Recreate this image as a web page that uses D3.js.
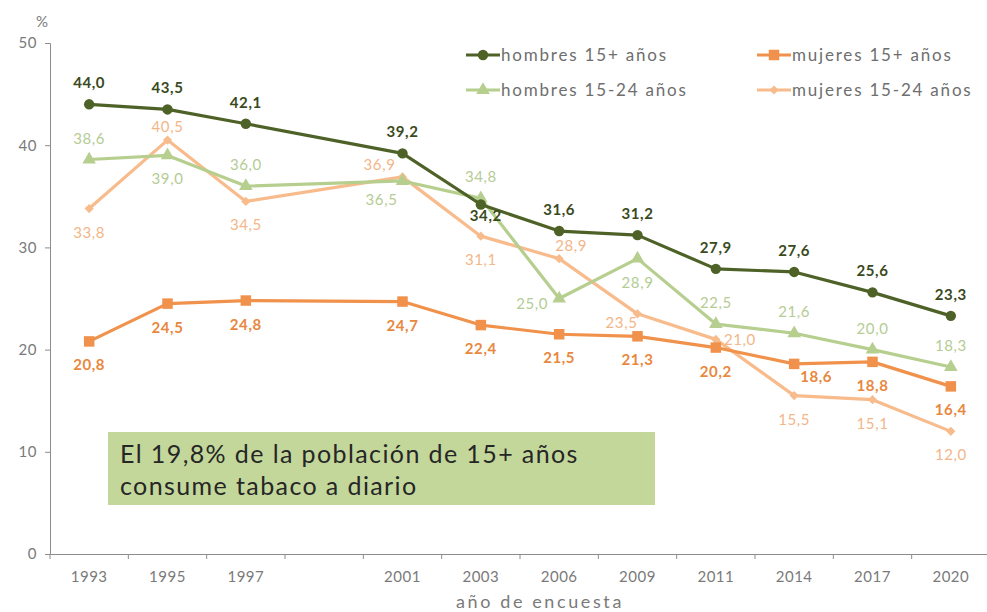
<!DOCTYPE html>
<html lang="es">
<head>
<meta charset="utf-8">
<title>Consumo diario de tabaco</title>
<script src="https://cdn.jsdelivr.net/npm/d3@7"></script>
<style>
  body { margin: 0; background: #fff; }
  text { font-family: Lato, "Open Sans", sans-serif; }
</style>
</head>
<body>
<script>
// datos (una casilla vacía entre 1997 y 2001)
var categories = ["1993", "1995", "1997", "", "2001", "2003", "2006", "2009", "2011", "2014", "2017", "2020"];
var hombres15 = [44.0, 43.5, 42.1, null, 39.2, 34.2, 31.6, 31.2, 27.9, 27.6, 25.6, 23.3];
var mujeres15 = [20.8, 24.5, 24.8, null, 24.7, 22.4, 21.5, 21.3, 20.2, 18.6, 18.8, 16.4];
var hombres1524 = [38.6, 39.0, 36.0, null, 36.5, 34.8, 25.0, 28.9, 22.5, 21.6, 20.0, 18.3];
var mujeres1524 = [33.8, 40.5, 34.5, null, 36.9, 31.1, 28.9, 23.5, 21.0, 15.5, 15.1, 12.0];
var yTicks = [0, 10, 20, 30, 40, 50];

// where each value label sits relative to its point
var placeH15 = ["t", "t", "t", null, "t", "br", "t", "t", "t", "t", "t", "t"];
var placeM15 = ["b", "b", "b", null, "b", "b", "b", "b", "b", "brr", "b", "b"];
var placeH1524 = ["t", "b", "t", null, "lb", "t", "l", "b", "t", "t", "t", "t"];
var placeM1524 = ["b", "tc", "b", null, "tl", "b", "tr", "bl", "r", "b", "b", "b"];

var offsets = {
  t: [0, -16], b: [0, 29], l: [-27, 10], r: [24, 6], tc: [0, -8],
  tr: [12, -8], tl: [-23, -7], bl: [-16, 14], lb: [-21, 24], br: [5, 17], brr: [22, 18]
};

var series = [
  {name: "mujeres 15-24 años", values: mujeres1524, place: placeM1524, color: "#f8bb8c", label: "#f3b689", weight: 400, symbol: "diamond", size: 42},
  {name: "hombres 15-24 años", values: hombres1524, place: placeH1524, color: "#b6cf8f", label: "#b5cc95", weight: 400, symbol: d3.symbolTriangle, size: 80},
  {name: "mujeres 15+ años", values: mujeres15, place: placeM15, color: "#f0914c", label: "#e8883f", weight: 700, symbol: d3.symbolSquare, size: 110},
  {name: "hombres 15+ años", values: hombres15, place: placeH15, color: "#4e6228", label: "#3a4a1c", weight: 700, symbol: d3.symbolCircle, size: 85}
];

var width = 987, height = 612;
var svg = d3.select("body").append("svg").attr("width", width).attr("height", height);

var x = d3.scaleBand().domain(categories).range([50, 990]);
var y = d3.scaleLinear().domain([0, 50]).range([554, 43]);
var cx = function(c) { return x(c) + x.bandwidth() / 2; };

// text box
var box = svg.append("g");
box.append("rect").attr("x", 108).attr("y", 432).attr("width", 547).attr("height", 73).attr("fill", "#c4d79b");
box.append("text").attr("x", 120).attr("y", 463).attr("font-size", 25).attr("letter-spacing", 1.4).attr("fill", "#262626")
  .text("El 19,8%  de la población de 15+ años");
box.append("text").attr("x", 120).attr("y", 495).attr("font-size", 25).attr("letter-spacing", 1.4).attr("fill", "#262626")
  .text("consume tabaco a diario");

// axes
var gy = svg.append("g").attr("transform", "translate(50,0)")
  .call(d3.axisLeft(y).tickValues(yTicks).tickSize(5).tickPadding(8));
var gx = svg.append("g").attr("transform", "translate(0,554)")
  .call(d3.axisBottom(x).tickSize(0).tickPadding(17));
[gy, gx].forEach(function(g) {
  g.select(".domain").attr("stroke", "#8c8c8c");
  g.selectAll(".tick line").attr("stroke", "#8c8c8c");
  g.selectAll(".tick text").attr("fill", "#7a7a7a").attr("font-size", 15).attr("letter-spacing", 0.5)
    .attr("font-family", "Lato, sans-serif");
});
// tick marks between categories
gx.selectAll(".sep").data(categories.concat(["end"])).enter().append("line")
  .attr("x1", function(d, i) { return i < categories.length ? x(d) : x.range()[1]; })
  .attr("x2", function(d, i) { return i < categories.length ? x(d) : x.range()[1]; })
  .attr("y1", 0).attr("y2", 5).attr("stroke", "#8c8c8c");

svg.append("text").attr("x", 42).attr("y", 27).attr("text-anchor", "middle")
  .attr("font-size", 15).attr("fill", "#7a7a7a").text("%");
svg.append("text").attr("x", 540).attr("y", 608).attr("text-anchor", "middle")
  .attr("font-size", 18).attr("letter-spacing", 2.6).attr("fill", "#7a7a7a").text("año de encuesta");

function symbolPath(s) {
  if (s.symbol === "diamond") return d3.symbol(d3.symbolSquare, s.size)();
  return d3.symbol(s.symbol, s.size)();
}
function symbolRot(s) { return s.symbol === "diamond" ? " rotate(45)" : ""; }

var line = d3.line().x(function(d) { return cx(d.c); }).y(function(d) { return y(d.v); });

series.forEach(function(s) {
  var pts = categories.map(function(c, i) { return {c: c, v: s.values[i], p: s.place[i]}; })
    .filter(function(d) { return d.v !== null; });
  var g = svg.append("g");
  g.append("path").datum(pts).attr("d", line).attr("fill", "none")
    .attr("stroke", s.color).attr("stroke-width", 3.2).attr("stroke-linejoin", "round");
  g.selectAll(".m").data(pts).enter().append("path")
    .attr("d", symbolPath(s)).attr("fill", s.color)
    .attr("transform", function(d) { return "translate(" + cx(d.c) + "," + y(d.v) + ")" + symbolRot(s); });
  g.selectAll(".lab").data(pts).enter().append("text")
    .attr("x", function(d) { return cx(d.c) + offsets[d.p][0]; })
    .attr("y", function(d) { return y(d.v) + offsets[d.p][1]; })
    .attr("text-anchor", "middle").attr("font-size", 15).attr("letter-spacing", 0.6)
    .attr("font-weight", s.weight).attr("fill", s.label)
    .text(function(d) { return d.v.toFixed(1).replace(".", ","); });
});

// legend
var legendOrder = [series[3], series[2], series[1], series[0]];
var lg = svg.append("g");
legendOrder.forEach(function(s, i) {
  var lx = i % 2 === 0 ? 466 : 757, ly = i < 2 ? 55 : 90;
  var it = lg.append("g").attr("transform", "translate(" + lx + "," + ly + ")");
  it.append("line").attr("x1", 0).attr("x2", 34).attr("stroke", s.color).attr("stroke-width", 3.2);
  it.append("path").attr("d", symbolPath(s)).attr("fill", s.color)
    .attr("transform", "translate(17,0)" + symbolRot(s));
  it.append("text").attr("x", 35).attr("y", 6).attr("font-size", 17).attr("letter-spacing", 1.8)
    .attr("fill", "#6e6e6e").text(s.name);
});
</script>
</body>
</html>
